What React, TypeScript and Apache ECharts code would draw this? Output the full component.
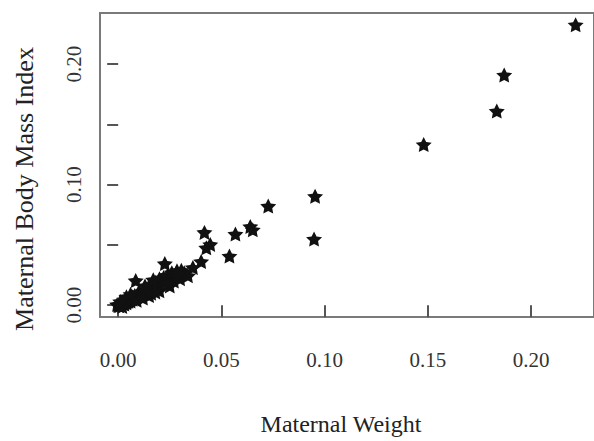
import React, { useEffect, useRef } from "react";
import * as echarts from "echarts";

// Maternal Weight (x) and Maternal Body Mass Index (y)
const maternalWeight = [
  -0.0005, 0.0, 0.0005, 0.001, 0.0015, 0.002, 0.0025, 0.003, 0.003, 0.0035,
  0.004, 0.004, 0.0045, 0.005, 0.005, 0.006, 0.006, 0.007, 0.007, 0.008,
  0.008, 0.009, 0.0095, 0.010, 0.010, 0.011, 0.012, 0.012, 0.013, 0.014,
  0.014, 0.015, 0.015, 0.016, 0.017, 0.018, 0.018, 0.019, 0.020, 0.020,
  0.020, 0.021, 0.022, 0.022, 0.023, 0.024, 0.025, 0.025, 0.026, 0.027,
  0.028, 0.004, 0.006, 0.009, 0.012, 0.016, 0.018, 0.013, 0.017, 0.024,
  0.027, 0.030, 0.029, 0.032, 0.002, 0.001,
  0.0085, 0.0226, 0.0306, 0.0338, 0.0362, 0.0402, 0.0285, 0.0427,
  0.0418, 0.0446, 0.0539, 0.0568, 0.064, 0.0652, 0.0727, 0.0949, 0.0954,
  0.148, 0.1834, 0.187, 0.2216,
];
const maternalBMI = [
  0.0005, 0.0, -0.0005, 0.001, 0.0008, 0.002, 0.0015, 0.003, 0.001, 0.0025,
  0.004, 0.002, 0.003, 0.005, 0.0035, 0.005, 0.0035, 0.007, 0.005, 0.006,
  0.008, 0.007, 0.009, 0.0105, 0.008, 0.009, 0.012, 0.010, 0.011, 0.013,
  0.0115, 0.016, 0.008, 0.014, 0.015, 0.019, 0.016, 0.017, 0.022, 0.018,
  0.012, 0.020, 0.023, 0.019, 0.021, 0.025, 0.022, 0.016, 0.027, 0.024,
  0.026, 0.007, 0.009, 0.004, 0.006, 0.010, 0.011, 0.016, 0.021, 0.018,
  0.020, 0.022, 0.025, 0.027, -0.001, 0.003,
  0.0204, 0.0345, 0.029, 0.0245, 0.0313, 0.0362, 0.0286, 0.0476,
  0.0604, 0.0504, 0.0408, 0.059, 0.0653, 0.0626, 0.0822, 0.0549, 0.0904,
  0.1333, 0.161, 0.191, 0.2327,
];
const xTickValues = [0, 0.05, 0.1, 0.15, 0.2];
const yTickValues = [0, 0.05, 0.1, 0.15, 0.2];
const yLabelValues = [0, 0.1, 0.2];
const xTitle = "Maternal Weight";
const yTitle = "Maternal Body Mass Index";

const STAR =
  "path://M10 0 L12.939 5.955 L19.511 6.910 L14.755 11.545 L15.878 18.090 L10 15 L4.122 18.090 L5.245 11.545 L0.489 6.910 L7.061 5.955 Z";
const FONT = "'Liberation Serif', 'Times New Roman', serif";

export default function App() {
  const ref = useRef<HTMLDivElement>(null);
  useEffect(() => {
    if (!ref.current) return;
    const chart = echarts.init(ref.current, undefined, { renderer: "svg" });
    const data = maternalWeight.map((w, i) => [w, maternalBMI[i]]);
    chart.setOption({
      animation: false,
      backgroundColor: "#ffffff",
      grid: {
        left: 100,
        top: 13,
        width: 496,
        height: 309,
        show: true,
        borderColor: "#7a7a7a",
        borderWidth: 2,
        backgroundColor: "transparent",
      },
      xAxis: {
        type: "value",
        min: -0.0088,
        max: 0.2305,
        axisLine: { show: false },
        splitLine: { show: false },
        axisTick: {
          show: true,
          length: 12,
          customValues: xTickValues,
          lineStyle: { color: "#555", width: 2 },
        },
        axisLabel: {
          customValues: xTickValues,
          formatter: (v: number) => v.toFixed(2),
          fontFamily: FONT,
          fontSize: 21,
          color: "#333",
          margin: 32,
        },
        name: xTitle,
        nameLocation: "middle",
        nameGap: 95,
        nameTextStyle: {
          fontFamily: FONT,
          fontSize: 24,
          color: "#222",
          padding: [0, 12, 0, 0],
        },
      },
      yAxis: {
        type: "value",
        min: -0.0098,
        max: 0.2424,
        axisLine: { show: false },
        splitLine: { show: false },
        axisTick: {
          show: true,
          length: 11,
          customValues: yTickValues,
          lineStyle: { color: "#555", width: 2 },
        },
        axisLabel: {
          customValues: yLabelValues,
          formatter: (v: number) => v.toFixed(2),
          rotate: 90,
          fontFamily: FONT,
          fontSize: 21,
          color: "#333",
          margin: 16,
        },
        name: yTitle,
        nameLocation: "middle",
        nameRotate: 90,
        nameGap: 63,
        nameTextStyle: {
          fontFamily: FONT,
          fontSize: 26,
          color: "#222",
          padding: [0, 48, 0, 0],
        },
      },
      series: [
        {
          type: "scatter",
          data,
          symbol: STAR,
          symbolSize: [16, 15],
          itemStyle: { color: "#111", opacity: 1 },
          clip: false,
        },
      ],
    });
    return () => chart.dispose();
  }, []);
  return (
    <div
      ref={ref}
      style={{ position: "fixed", left: 0, top: 0, width: 594, height: 441, background: "#fff" }}
    />
  );
}
